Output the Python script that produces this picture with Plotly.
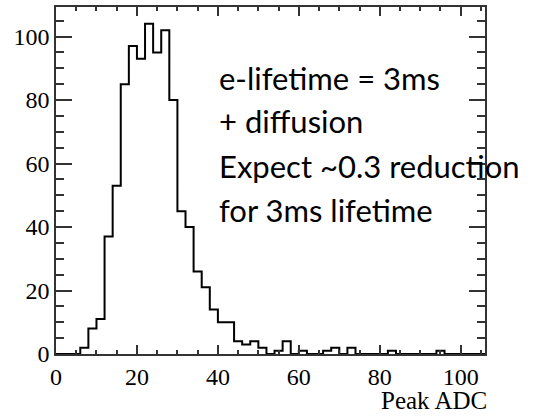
import plotly.graph_objects as go

bin_width = 2
bin_start = 0
counts = [0, 0, 0, 2, 8, 11, 37, 53, 85, 97, 93, 104, 95, 102, 80,
          45, 40, 26, 21, 14, 10, 10, 4, 3, 4, 2, 0, 1, 4, 0,
          1, 0, 0, 1, 2, 0, 2, 0, 0, 0, 0, 1, 0, 0, 0,
          0, 0, 1, 0, 0, 0, 0, 0]
edges = [bin_start + i * bin_width for i in range(len(counts) + 1)]

x_ticks = [0, 20, 40, 60, 80, 100]
y_ticks = [0, 20, 40, 60, 80, 100]
x_title = "Peak ADC"
note_lines = ["e-lifetime = 3ms", "+ diffusion", "Expect ~0.3 reduction", "for 3ms lifetime"]

fig = go.Figure()
fig.add_trace(go.Scatter(
    x=edges, y=counts + [counts[-1]],
    mode="lines", line=dict(shape="hv", color="black", width=2),
    hoverinfo="skip", showlegend=False,
))

tick_font = dict(family="Liberation Serif", size=24, color="black")
axis_common = dict(
    showgrid=False, zeroline=False, showline=True, linecolor="#333", linewidth=1.5,
    mirror="allticks", ticks="inside", tickcolor="#333", tickwidth=1.5,
    tickfont=tick_font,
)
fig.update_xaxes(range=[0, 106], tickvals=x_ticks, ticklen=9, ticklabelstandoff=0,
                 minor=dict(ticks="inside", dtick=5, tick0=0, ticklen=4, tickcolor="#333", tickwidth=1.5),
                 **axis_common)
fig.update_yaxes(range=[0, 109.3], tickvals=y_ticks, ticklen=16, ticklabelstandoff=0,
                 minor=dict(ticks="inside", dtick=5, tick0=0, ticklen=8, tickcolor="#333", tickwidth=1.5),
                 **axis_common)

note_y = [0.796, 0.671, 0.541, 0.415]
for txt, yy in zip(note_lines, note_y):
    fig.add_annotation(text=txt, xref="paper", yref="paper", x=0.376, y=yy,
                       xanchor="left", yanchor="middle", showarrow=False,
                       font=dict(family="Lato", size=31, color="black"))

fig.add_annotation(text=x_title, xref="paper", yref="paper", x=1.01, y=-0.18,
                   xanchor="right", yanchor="bottom", showarrow=False,
                   font=dict(family="Liberation Serif", size=25, color="black"))

fig.update_layout(width=539, height=419, margin=dict(l=56, r=54, t=5, b=65),
                  paper_bgcolor="white", plot_bgcolor="white")
fig.write_html("out.html")
